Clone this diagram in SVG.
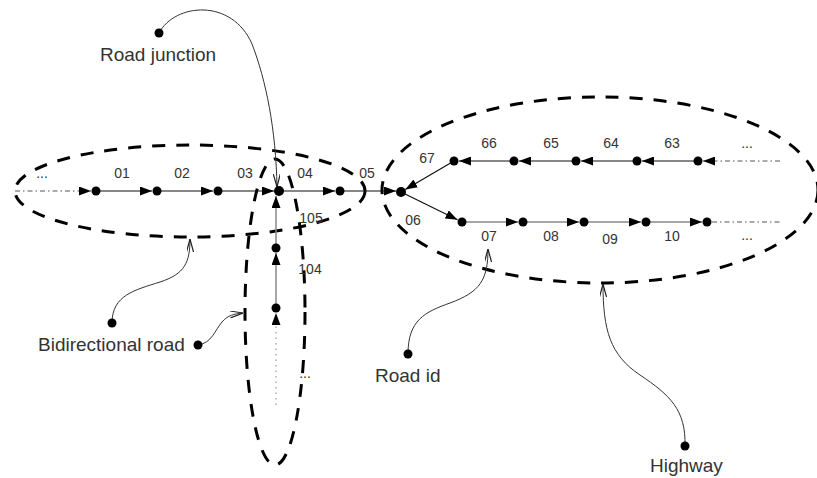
<svg xmlns="http://www.w3.org/2000/svg" width="817" height="478" viewBox="0 0 817 478">
<style>
.bg{fill:#fff}
.reg{fill:none;stroke:#000;stroke-width:3;stroke-dasharray:13 11}
.rd{stroke:#111;stroke-width:1.2;fill:none}
.rg{stroke:#888;stroke-width:1.5;fill:none}
.dot{stroke:#555;stroke-width:1;stroke-dasharray:5 3 1.5 3;fill:none}
.dotg{stroke:#999;stroke-width:1.2;stroke-dasharray:1.5 4;fill:none}
.an{stroke:#333;stroke-width:1;fill:none}
.nd{fill:#000}
.lb{font-family:"Liberation Sans",Arial,sans-serif;font-size:14px;fill:#333;text-anchor:middle}
.big{font-family:"Liberation Sans",Arial,sans-serif;font-size:19px;fill:#333}
</style>
<defs>
<marker id="fa" viewBox="0 0 12 9" markerWidth="12" markerHeight="9" refX="12" refY="4.5" orient="auto" markerUnits="userSpaceOnUse"><path d="M0,0 L12,4.5 L0,9 z" fill="#000"/></marker>
<marker id="oa" viewBox="0 0 13 7" markerWidth="13" markerHeight="7" refX="13" refY="3.5" orient="auto" markerUnits="userSpaceOnUse"><path d="M0,0 L13,3.5 L0,7" fill="none" stroke="#222" stroke-width="1.2"/></marker>
</defs>
<rect class="bg" x="0" y="0" width="817" height="478"/>

<g id="regions">
<ellipse id="bidirectional-region" class="reg" cx="190" cy="191" rx="175" ry="46"/>
<ellipse id="vertical-region" class="reg" cx="275" cy="312" rx="30" ry="153"/>
<ellipse id="highway-region" class="reg" cx="600" cy="190" rx="218" ry="93"/>
</g>

<g id="connectors">
<line class="dot" x1="15" y1="191" x2="91" y2="191" marker-end="url(#fa)"/>
<line class="rd" x1="96" y1="191" x2="152" y2="191" marker-end="url(#fa)"/>
<line class="rd" x1="157" y1="191" x2="213" y2="191" marker-end="url(#fa)"/>
<line class="rd" x1="218" y1="191" x2="274" y2="191" marker-end="url(#fa)"/>
<line class="rd" x1="279" y1="191" x2="335" y2="191" marker-end="url(#fa)"/>
<line class="rd" x1="340" y1="191" x2="396" y2="191" marker-end="url(#fa)"/>
<line class="rg" x1="276" y1="248" x2="276" y2="196" marker-end="url(#fa)"/>
<line class="rg" x1="276" y1="308" x2="276" y2="253" marker-end="url(#fa)"/>
<line class="dotg" x1="276" y1="405" x2="276" y2="313" marker-end="url(#fa)"/>
<line class="dot" x1="780" y1="161" x2="703" y2="161" marker-end="url(#fa)"/>
<line class="rd" x1="698" y1="161" x2="642" y2="161" marker-end="url(#fa)"/>
<line class="rd" x1="637" y1="161" x2="581" y2="161" marker-end="url(#fa)"/>
<line class="rd" x1="576" y1="161" x2="519" y2="161" marker-end="url(#fa)"/>
<line class="rd" x1="514" y1="161" x2="459" y2="161" marker-end="url(#fa)"/>
<line class="rd" x1="454" y1="161" x2="405.3" y2="189.5" marker-end="url(#fa)"/>
<line class="rd" x1="401" y1="192" x2="457.5" y2="219.8" marker-end="url(#fa)"/>
<line class="rg" x1="462" y1="222" x2="518" y2="222" marker-end="url(#fa)"/>
<line class="rg" x1="523" y1="222" x2="579" y2="222" marker-end="url(#fa)"/>
<line class="rg" x1="584" y1="222" x2="641" y2="222" marker-end="url(#fa)"/>
<line class="rg" x1="646" y1="222" x2="702" y2="222" marker-end="url(#fa)"/>
<line class="dot" x1="712" y1="222" x2="780" y2="222"/>
<path class="an" d="M159,33 C175,3 232,-2 252,44 C266,80 276,130 277,187" marker-end="url(#oa)"/>
<path class="an" d="M112,323 C112,295 135,290 160,282 C185,274 190,262 190,239" marker-end="url(#oa)"/>
<path class="an" d="M198,345 C212,343 215,330 222,322 C228,315 234,314 243,313" marker-end="url(#oa)"/>
<path class="an" d="M408,354 C408,320 425,312 450,303 C480,292 488,280 488,249" marker-end="url(#oa)"/>
<path class="an" d="M685,446 C686,410 670,395 640,375 C610,355 603,330 603,284" marker-end="url(#oa)"/>
</g>

<g id="road-nodes">
<circle id="n01" class="nd" cx="96" cy="191" r="4.5"/>
<circle id="n02" class="nd" cx="157" cy="191" r="4.5"/>
<circle id="n03" class="nd" cx="218" cy="191" r="4.5"/>
<circle id="junction-a" class="nd" cx="279" cy="191" r="5"/>
<circle id="n04" class="nd" cx="340" cy="191" r="4.5"/>
<circle id="junction-b" class="nd" cx="401" cy="192" r="5"/>
<circle id="n105" class="nd" cx="276" cy="248" r="4.5"/>
<circle id="n104" class="nd" cx="276" cy="308" r="4.5"/>
<circle id="n67" class="nd" cx="454" cy="161" r="4.5"/>
<circle id="n66" class="nd" cx="514" cy="161" r="4.5"/>
<circle id="n65" class="nd" cx="576" cy="161" r="4.5"/>
<circle id="n64" class="nd" cx="637" cy="161" r="4.5"/>
<circle id="n63" class="nd" cx="698" cy="161" r="4.5"/>
<circle id="n06" class="nd" cx="462" cy="222" r="4.5"/>
<circle id="n07" class="nd" cx="523" cy="222" r="4.5"/>
<circle id="n08" class="nd" cx="584" cy="222" r="4.5"/>
<circle id="n09" class="nd" cx="646" cy="222" r="4.5"/>
<circle id="n10" class="nd" cx="707" cy="222" r="4.5"/>
</g>

<g id="road-labels">
<text class="lb" x="42" y="178">...</text>
<text class="lb" x="122" y="178">01</text>
<text class="lb" x="182" y="178">02</text>
<text class="lb" x="245" y="178">03</text>
<text class="lb" x="305" y="178">04</text>
<text class="lb" x="367" y="178">05</text>
<text class="lb" x="311" y="223">105</text>
<text class="lb" x="310" y="274">104</text>
<text class="lb" x="305" y="378">...</text>
<text class="lb" x="427" y="163">67</text>
<text class="lb" x="489" y="148">66</text>
<text class="lb" x="551" y="148">65</text>
<text class="lb" x="611" y="148">64</text>
<text class="lb" x="672" y="148">63</text>
<text class="lb" x="747" y="148">...</text>
<text class="lb" x="413" y="225">06</text>
<text class="lb" x="489" y="241">07</text>
<text class="lb" x="551" y="241">08</text>
<text class="lb" x="610" y="244">09</text>
<text class="lb" x="672" y="241">10</text>
<text class="lb" x="747" y="240">...</text>
</g>

<g id="label-road-junction">
<circle class="nd" cx="159" cy="33" r="4.5"/>
<text class="big" x="100" y="61">Road junction</text>
</g>
<g id="label-bidirectional-road">
<circle class="nd" cx="112" cy="323" r="4.5"/>
<circle class="nd" cx="198" cy="345" r="4.5"/>
<text class="big" x="38" y="351">Bidirectional road</text>
</g>
<g id="label-road-id">
<circle class="nd" cx="408" cy="354" r="4.5"/>
<text class="big" x="375" y="382">Road id</text>
</g>
<g id="label-highway">
<circle class="nd" cx="685" cy="446" r="4.5"/>
<text class="big" x="650" y="472">Highway</text>
</g>
</svg>
